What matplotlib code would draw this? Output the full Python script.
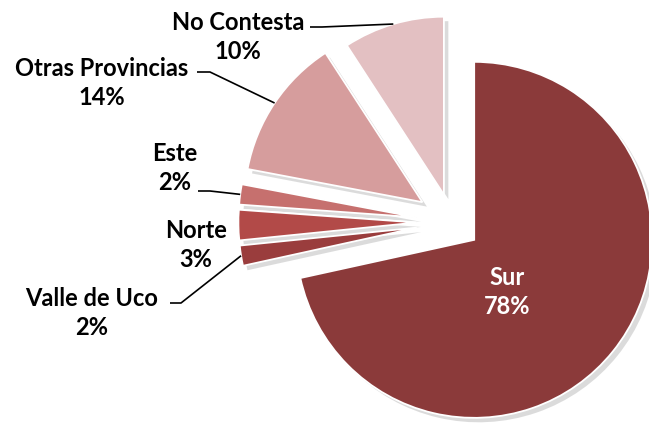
import numpy as np
import matplotlib
matplotlib.use("Agg")
import matplotlib.pyplot as plt
from matplotlib.patches import Shadow

# Data (clockwise from 12 o'clock)
categorias = ["Sur", "Valle de Uco", "Norte", "Este", "Otras Provincias", "No Contesta"]
porcentajes = [78, 2, 3, 2, 14, 10]
colores = ["#8B3A3A", "#9A3D3D", "#B24A48", "#C6706E", "#D69D9D", "#E3C0C2"]
separacion = [0.16, 0.2, 0.2, 0.2, 0.2, 0.16]

W, H = 649, 428
fig = plt.figure(figsize=(W / 100, H / 100), dpi=100)
ax = fig.add_axes([0, 0, 1, 1])

wedges, _ = ax.pie(porcentajes, colors=colores, startangle=90, counterclock=False,
                   explode=separacion, radius=1.0,
                   wedgeprops=dict(edgecolor="white", linewidth=1.3))

# pie centre sits at pixel (452, 222), radius 178 px (set after pie, which resets limits)
scale = 178.0
cx, cy = 452, 222
ax.set_xlim(-cx / scale, (W - cx) / scale)
ax.set_ylim(-(H - cy) / scale, cy / scale)
ax.set_aspect("equal")
ax.axis("off")

# soft drop shadow
for w in wedges:
    s = Shadow(w, 0.018, -0.018, facecolor="#9a9a9a", alpha=0.35, edgecolor="none")
    s.set_zorder(w.get_zorder() - 0.5)
    ax.add_patch(s)


def px(x, y):
    # pixel position -> axes fraction
    return x / W, 1 - y / H


# label block centres (px) and leader start points (px)
etiquetas = {
    "Sur": (507, 292),
    "Valle de Uco": (92, 313),
    "Norte": (196, 245),
    "Este": (175, 168),
    "Otras Provincias": (102, 83),
    "No Contesta": (238, 37),
}
guias = {
    "Valle de Uco": ((170, 303), (181, 303)),
    "Este": ((198, 191), (210, 191)),
    "Otras Provincias": ((197, 72), (210, 72)),
    "No Contesta": ((310, 27), (322, 27)),
}

for w, cat, pct in zip(wedges, categorias, porcentajes):
    bx, by = etiquetas[cat]
    color = "white" if cat == "Sur" else "black"
    ax.text(*px(bx, by), f"{cat}\n{pct}%", transform=ax.transAxes, ha="center",
            va="center", multialignment="center", fontsize=17, fontweight="bold",
            family="Lato", color=color, linespacing=1.35)
    if cat in guias:
        (x0, y0), (x1, y1) = guias[cat]
        mid = np.deg2rad((w.theta1 + w.theta2) / 2)
        ex = w.center[0] + w.r * np.cos(mid)
        ey = w.center[1] + w.r * np.sin(mid)
        p0 = ((x0 - cx) / scale, (cy - y0) / scale)
        p1 = ((x1 - cx) / scale, (cy - y1) / scale)
        ax.plot([p0[0], p1[0], ex], [p0[1], p1[1], ey], color="black", lw=1.2,
                solid_capstyle="butt")

fig.savefig("out.png", dpi=100)
